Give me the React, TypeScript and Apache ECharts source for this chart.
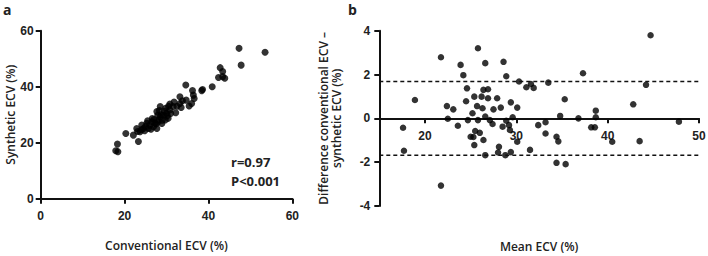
import React, { useEffect, useRef } from "react";
import * as echarts from "echarts";

// Panel a: conventional ECV (x) vs synthetic ECV (y)
const scatterA: [number, number][] = [
  [17.9, 17.1], [18.3, 19.5], [18.4, 16.8], [20.3, 23.3], [22.1, 22.7], [22.9, 25.1],
  [23.3, 20.4], [23.7, 23.9], [24.5, 25.1], [24.1, 26.3], [25.3, 26.9], [25.7, 25.1],
  [26.5, 27.5], [26.9, 25.7], [27.5, 26.7], [28.1, 28.1], [27.7, 25.1], [28.5, 29.3],
  [28.9, 26.9], [29.3, 29.9], [29.7, 28.1], [30.0, 30.5], [30.4, 28.7], [28.5, 32.9],
  [27.7, 31.1], [30.8, 31.7], [30.8, 33.8], [31.6, 32.9], [32.2, 30.7], [33.2, 34.0],
  [33.5, 32.6], [33.2, 36.4], [34.6, 40.6], [34.7, 35.2], [35.4, 33.1], [36.0, 34.0],
  [36.2, 38.6], [36.4, 37.0], [36.6, 35.8], [38.4, 38.6], [38.6, 39.0], [40.9, 40.0],
  [42.8, 46.8], [42.4, 43.3], [43.4, 45.4], [43.4, 43.6], [43.9, 43.0], [47.3, 53.7],
  [47.8, 47.7], [53.5, 52.3],
  [24.8, 24.3], [25.5, 27.8], [26.0, 26.2], [26.3, 24.8], [27.0, 28.3], [27.2, 27.0],
  [28.0, 27.4], [28.8, 30.0], [29.0, 28.0], [29.5, 31.2], [30.2, 29.6], [31.0, 30.4],
  [29.8, 32.3], [27.9, 29.8], [26.6, 28.6], [25.0, 25.8], [24.0, 24.6], [23.1, 24.0],
  [32.5, 33.0], [31.8, 34.5], [33.8, 35.0], [28.3, 31.5], [30.5, 33.0],
];

// Panel b: Bland-Altman, mean ECV (x) vs difference (y)
const baPoints: [number, number][] = [
  [17.6, -0.43], [17.7, -1.48], [18.9, 0.84], [21.75, 2.79], [22.4, 0.56], [22.5, -0.02],
  [23.1, 0.41], [23.6, -0.34], [21.75, -3.07], [23.9, 2.44], [24.2, 1.97], [24.6, 1.37],
  [24.5, 0.78], [24.7, -0.08], [25.0, -0.84], [25.2, 0.23], [25.4, 0.99], [25.3, -0.85],
  [25.4, -1.22], [25.5, -0.58], [25.8, 3.2], [25.7, 0.56], [25.8, -0.08], [26.0, -0.66],
  [26.2, 0.99], [26.4, 1.3], [26.3, 0.46], [26.4, -0.99], [26.6, 2.52], [26.6, -1.68],
  [26.6, 0.08], [26.9, 1.33], [26.9, 0.92], [27.1, -0.08], [27.4, -0.26], [27.5, 0.41],
  [27.9, 0.92], [28.1, -1.3], [28.0, -1.56], [28.3, 0.49], [28.5, -0.38], [28.6, 2.58],
  [28.9, 1.92], [28.8, -1.68], [28.9, -0.11], [29.2, -0.31], [29.4, 0.73], [29.3, -0.53],
  [29.4, -1.54], [29.6, 0.05], [30.1, 0.49], [30.1, -1.07], [30.3, 1.68], [31.1, 1.42],
  [31.6, 1.57], [31.9, 1.39], [31.5, -1.44], [32.4, -0.31], [33.2, -0.18], [33.2, -0.69],
  [33.5, 1.63], [34.4, -0.84], [34.6, -1.05], [34.8, 0.11], [34.4, -2.03], [35.3, 0.87],
  [35.4, -2.09], [36.8, 0.0], [37.3, 2.06], [38.2, -0.41], [38.6, -0.41], [38.7, 0.35],
  [38.7, 0.05], [40.5, -1.07], [42.8, 0.64], [43.5, -1.04], [44.2, 1.53], [44.7, 3.79],
  [47.8, -0.15],
];

const upperLoA = 1.68;
const lowerLoA = -1.68;
const loaXRange = [15, 50.7];
const xTicksB = [20, 30, 40, 50];
const stats = ["r=0.97", "P<0.001"];

const tickFont = {
  fontFamily: "Liberation Sans, Arial, sans-serif",
  fontWeight: "bold" as const,
  fontSize: 12,
  color: "#222",
};
const nameFont = {
  fontFamily: "Open Sans, sans-serif",
  fontWeight: 600 as const,
  fontSize: 12,
  color: "#222",
};
const axisLine = { show: true, lineStyle: { color: "#111", width: 2 } };
const axisTick = { show: true, length: 5, lineStyle: { color: "#111", width: 2 } };

export default function App() {
  const ref = useRef<HTMLDivElement>(null);
  useEffect(() => {
    if (!ref.current) return;
    const chart = echarts.init(ref.current, null, { renderer: "svg" });
    chart.setOption({
      animation: false,
      backgroundColor: "#fff",
      grid: [
        { left: 40.7, top: 30.7, width: 251.6, height: 168, outerBoundsMode: "none", containLabel: false },
        { left: 379.3, top: 30.7, width: 319.7, height: 175.3, outerBoundsMode: "none", containLabel: false },
      ],
      xAxis: [
        {
          gridIndex: 0, type: "value", min: 0, max: 60, interval: 20,
          axisLine, axisTick, splitLine: { show: false },
          axisLabel: { ...tickFont, margin: 11 },
          name: "Conventional ECV (%)", nameLocation: "middle", nameGap: 41,
          nameTextStyle: nameFont,
        },
        {
          gridIndex: 1, type: "value", min: 15, max: 50,
          position: "bottom", offset: -87.65,
          axisLine: { ...axisLine, onZero: false }, splitLine: { show: false },
          axisTick: { ...axisTick, customValues: xTicksB },
          axisLabel: { ...tickFont, margin: 12, customValues: xTicksB },
          name: "Mean ECV (%)", nameLocation: "middle", nameGap: 122,
          nameTextStyle: nameFont,
        },
      ],
      yAxis: [
        {
          gridIndex: 0, type: "value", min: 0, max: 60, interval: 20,
          axisLine, axisTick, splitLine: { show: false },
          axisLabel: { ...tickFont, margin: 7 },
          name: "Synthetic ECV (%)", nameLocation: "middle", nameGap: 24,
          nameTextStyle: nameFont,
        },
        {
          gridIndex: 1, type: "value", min: -4, max: 4, interval: 2,
          axisLine, axisTick, splitLine: { show: false },
          axisLabel: { ...tickFont, margin: 9 },
          name: "Difference conventional ECV \u2013\nsynthetic ECV (%)",
          nameLocation: "middle", nameGap: 36,
          nameTextStyle: { ...nameFont, lineHeight: 13 },
        },
      ],
      series: [
        {
          type: "scatter", xAxisIndex: 0, yAxisIndex: 0, data: scatterA,
          symbolSize: 7, itemStyle: { color: "#000" },
        },
        {
          type: "scatter", xAxisIndex: 1, yAxisIndex: 1, data: baPoints,
          symbolSize: 6.5, itemStyle: { color: "#000" },
        },
        {
          type: "line", xAxisIndex: 1, yAxisIndex: 1, clip: false, symbol: "none",
          data: [[loaXRange[0], upperLoA], [loaXRange[1], upperLoA]],
          lineStyle: { color: "#111", width: 1.5, type: [4, 3] },
        },
        {
          type: "line", xAxisIndex: 1, yAxisIndex: 1, clip: false, symbol: "none",
          data: [[loaXRange[0], lowerLoA], [loaXRange[1], lowerLoA]],
          lineStyle: { color: "#111", width: 1.5, type: [4, 3] },
        },
      ],
      graphic: [
        {
          type: "text", left: 3, top: 2,
          style: { text: "a", font: "bold 14px 'Open Sans', sans-serif", fill: "#222" },
        },
        {
          type: "text", left: 348, top: 2,
          style: { text: "b", font: "bold 14px 'Open Sans', sans-serif", fill: "#222" },
        },
        {
          type: "text", left: 231, top: 155,
          style: { text: stats[0], font: "bold 13px 'Open Sans', sans-serif", fill: "#222" },
        },
        {
          type: "text", left: 231, top: 174,
          style: { text: stats[1], font: "bold 13px 'Open Sans', sans-serif", fill: "#222" },
        },
      ],
    });
    return () => chart.dispose();
  }, []);
  return (
    <div
      ref={ref}
      style={{ position: "fixed", left: 0, top: 0, width: 708, height: 256, background: "#fff" }}
    />
  );
}
